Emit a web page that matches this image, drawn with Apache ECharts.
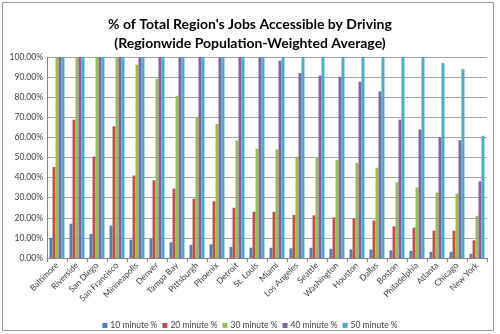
<!DOCTYPE html>
<html>
<head>
<meta charset="utf-8">
<script src="https://cdn.jsdelivr.net/npm/echarts@6/dist/echarts.min.js"></script>
<style>
  html, body { margin: 0; padding: 0; background: #ffffff; }
  #chart { width: 500px; height: 334px; }
</style>
</head>
<body>
<div id="chart"></div>
<script>
// Cities, ordered by share of jobs reachable within 10 minutes
const cities = ['Baltimore', 'Riverside', 'San Diego', 'San Francisco', 'Minneapolis', 'Denver',
  'Tampa Bay', 'Pittsburgh', 'Phoenix', 'Detroit', 'St. Louis', 'Miami', 'Los Angeles', 'Seattle',
  'Washington', 'Houston', 'Dallas', 'Boston', 'Philadelphia', 'Atlanta', 'Chicago', 'New York'];

// Share of the region's jobs reachable by car, in percent
const min10 = [10.0, 17.1, 12.0, 16.1, 9.1, 9.5, 7.8, 6.5, 6.8, 5.5, 5.1, 5.1, 4.8, 5.1,
  4.6, 4.3, 4.3, 3.8, 3.5, 3.1, 3.1, 2.1];
const min20 = [45.3, 68.8, 50.5, 65.5, 41.0, 38.6, 34.5, 29.5, 28.2, 25.0, 23.0, 23.0, 21.5, 21.2,
  20.2, 19.7, 18.7, 15.7, 15.1, 13.6, 13.6, 8.8];
const min30 = [100, 100, 100, 100, 96.2, 89.2, 80.7, 70.3, 66.7, 58.5, 54.4, 54.0, 50.4, 49.8,
  48.9, 47.3, 44.9, 37.6, 35.1, 32.6, 32.0, 21.0];
const min40 = [100, 100, 100, 100, 100, 100, 100, 100, 100, 100, 100, 98.2, 92.0, 90.7,
  90.2, 87.7, 82.9, 68.8, 64.0, 60.0, 58.5, 38.1];
const min50 = [100, 100, 100, 100, 100, 100, 100, 100, 100, 100, 100, 100, 100, 100,
  100, 100, 100, 100, 100, 97.0, 94.0, 60.8];

const seriesNames = ['10 minute %', '20 minute %', '30 minute %', '40 minute %', '50 minute %'];
const seriesData = [min10, min20, min30, min40, min50];
const colors = ['#4F81BD', '#C0504D', '#9BBB59', '#8064A2', '#4BACC6'];

const yTicks = [0, 10, 20, 30, 40, 50, 60, 70, 80, 90, 100];

const FONT = 'Lato, "Liberation Sans", sans-serif';

const chart = echarts.init(document.getElementById('chart'), null, { renderer: 'canvas' });

chart.setOption({
  animation: false,
  backgroundColor: '#ffffff',
  color: colors,
  textStyle: { fontFamily: FONT },
  title: {
    text: "% of Total Region's Jobs Accessible by Driving\n(Regionwide Population-Weighted Average)",
    left: 'center',
    top: 10,
    textStyle: {
      fontFamily: FONT,
      fontSize: 14,
      fontWeight: 'bold',
      color: '#000000',
      lineHeight: 19
    }
  },
  graphic: [{
    type: 'rect',
    shape: { x: 2.5, y: 2.5, width: 491, height: 328 },
    style: { fill: 'none', stroke: '#9a9a9a', lineWidth: 1 },
    silent: true,
    z: -1
  }],
  legend: {
    top: 321,
    left: 'center',
    itemWidth: 5,
    itemHeight: 5,
    itemGap: 5,
    icon: 'rect',
    padding: 0,
    textStyle: { fontFamily: FONT, fontSize: 8.5, color: '#404040', padding: [0, 0, 0, -2] },
    data: seriesNames
  },
  grid: {
    left: 47,
    right: 13,
    top: 57,
    bottom: 76,
    containLabel: false,
    outerBoundsMode: 'none'
  },
  xAxis: {
    type: 'category',
    data: cities,
    axisLine: { show: true, lineStyle: { color: '#868686', width: 1 } },
    axisTick: { show: true, length: 4, lineStyle: { color: '#868686' } },
    axisLabel: {
      rotate: 45,
      interval: 0,
      margin: 6,
      fontSize: 8.5,
      color: '#404040',
      fontFamily: FONT
    }
  },
  yAxis: {
    type: 'value',
    min: yTicks[0],
    max: yTicks[yTicks.length - 1],
    interval: 10,
    axisLine: { show: true, lineStyle: { color: '#868686', width: 1 } },
    axisTick: { show: false },
    splitLine: { show: true, lineStyle: { color: '#a6a6a6', width: 1 } },
    axisLabel: {
      margin: 4,
      fontSize: 8.5,
      color: '#404040',
      fontFamily: FONT,
      formatter: v => v.toFixed(2) + '%'
    }
  },
  series: seriesNames.map((name, i) => ({
    name: name,
    type: 'bar',
    data: seriesData[i],
    barGap: '0%',
    barCategoryGap: '25%',
    itemStyle: { color: colors[i] }
  }))
});
</script>
</body>
</html>
